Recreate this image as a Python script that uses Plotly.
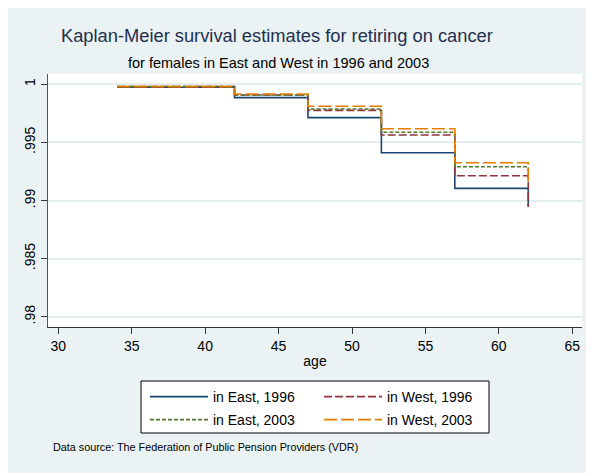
import plotly.graph_objects as go

# Data
ages = [34, 42, 47, 52, 57, 62]
east_1996 = [0.99975, 0.99885, 0.99713, 0.99411, 0.99105, 0.98947]
west_1996 = [0.99980, 0.99908, 0.99776, 0.99564, 0.99213, 0.98947]
east_2003 = [0.99980, 0.99908, 0.99787, 0.99587, 0.99291, 0.99170]
west_2003 = [0.99980, 0.99917, 0.99811, 0.99618, 0.99325, 0.99170]

series_names = ["in East, 1996", "in West, 1996", "in East, 2003", "in West, 2003"]
x_ticks = [30, 35, 40, 45, 50, 55, 60, 65]
y_ticks = [0.98, 0.985, 0.99, 0.995, 1.0]
y_tick_labels = [".98", ".985", ".99", ".995", "1"]

colors = ["#1a476f", "#90353b", "#55752f", "#e37e00"]
dashes = ["solid", "8px,3px", "4px,2px", "13px,4px"]
legend_rows = ["legend", "legend", "legend2", "legend2"]

FONT = "Liberation Sans, Arial, sans-serif"
BG = "#eaf2f3"

fig = go.Figure()
for name, vals, c, d, lg in zip(series_names, [east_1996, west_1996, east_2003, west_2003],
                                colors, dashes, legend_rows):
    fig.add_trace(go.Scatter(
        x=ages, y=vals, name=name, mode="lines", legend=lg,
        line=dict(color=c, width=1.6, dash=d, shape="hv"),
    ))

# page has an 8px body margin; figure sized to fill the 594x473 window
OFF = 8
W, H = 594 - OFF, 473 - OFF
ml, mr, mt, mb = 48 - OFF, 12, 74 - OFF, 146
pw, ph = W - ml - mr, H - mt - mb

def px_x(x):  # page pixel -> paper fraction
    return (x - OFF - ml) / pw

def px_y(y):
    return (mt + ph - (y - OFF)) / ph

leg_common = dict(
    orientation="h", xanchor="left", yanchor="top",
    bgcolor="rgba(0,0,0,0)", borderwidth=0,
    entrywidth=101, entrywidthmode="pixels", itemwidth=58,
    font=dict(family=FONT, size=14, color="black"),
    traceorder="normal",
)

fig.update_layout(
    width=W, height=H,
    margin=dict(l=ml, r=mr, t=mt, b=mb, pad=0, autoexpand=False),
    paper_bgcolor=BG, plot_bgcolor="white",
    font=dict(family=FONT, size=14, color="black"),
    showlegend=True,
    legend=dict(x=px_x(145), y=px_y(381), **leg_common),
    legend2=dict(x=px_x(145), y=px_y(404), **leg_common),
    xaxis=dict(
        range=[29.30, 65.66], tickvals=x_ticks, ticks="outside", ticklen=6,
        tickcolor="#333", showline=True, linecolor="#333", linewidth=1,
        showgrid=False, zeroline=False,
        tickfont=dict(family=FONT, size=14, color="black"),
        title=dict(text="age", font=dict(family=FONT, size=14, color="black"), standoff=3),
    ),
    yaxis=dict(
        range=[0.979123, 1.000886], tickvals=y_ticks, ticktext=y_tick_labels,
        ticks="outside", ticklen=6, tickcolor="#333", tickangle=-90,
        showline=True, linecolor="#555", linewidth=1,
        showgrid=True, gridcolor="#e4eef0", gridwidth=1.5, zeroline=False,
        tickfont=dict(family=FONT, size=14, color="black"),
    ),
    annotations=[
        dict(text="Kaplan-Meier survival estimates for retiring on cancer",
             x=px_x(277), y=px_y(36), xref="paper", yref="paper",
             xanchor="center", yanchor="middle", showarrow=False,
             font=dict(family=FONT, size=18.3, color="#1f3050")),
        dict(text="for females in East and West in 1996 and 2003",
             x=px_x(278), y=px_y(63), xref="paper", yref="paper",
             xanchor="center", yanchor="middle", showarrow=False,
             font=dict(family=FONT, size=14.5, color="black")),
        dict(text="Data source: The Federation of Public Pension Providers (VDR)",
             x=px_x(51), y=px_y(447), xref="paper", yref="paper",
             xanchor="left", yanchor="middle", showarrow=False,
             font=dict(family=FONT, size=10.8, color="black")),
    ],
    shapes=[
        dict(type="rect", xref="paper", yref="paper", layer="above",
             x0=px_x(141), x1=px_x(489), y0=px_y(433), y1=px_y(381),
             fillcolor="white", line=dict(color="black", width=1)),
    ],
)

fig.write_html("out.html")
